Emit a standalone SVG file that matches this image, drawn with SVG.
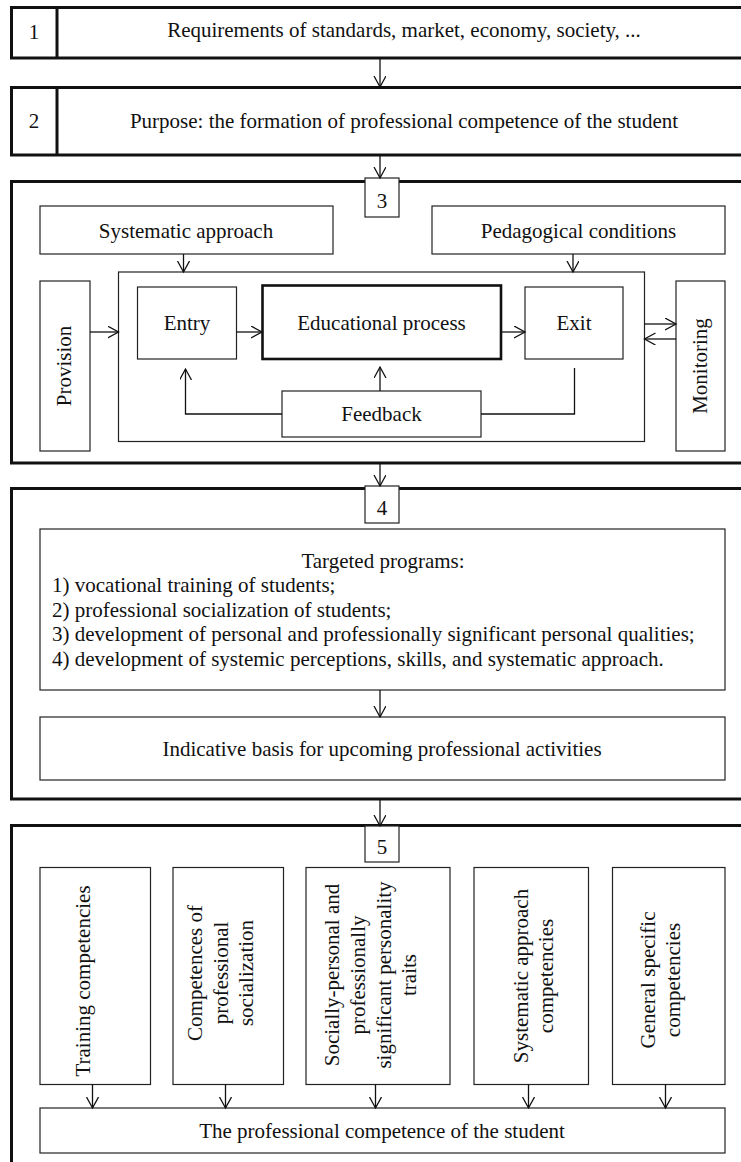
<svg xmlns="http://www.w3.org/2000/svg" width="741" height="1162" viewBox="0 0 741 1162">
<style>
text{font-family:"Liberation Serif","Times New Roman",serif;font-size:21px;fill:#111}
.c{text-anchor:middle}
.thick{fill:none;stroke:#111;stroke-width:3}
.box{fill:#fff;stroke:#222;stroke-width:1.2}
.bold{fill:#fff;stroke:#111;stroke-width:2.6}
.ln{fill:none;stroke:#111;stroke-width:1.3}
</style>
<defs>
<marker id="ah" markerWidth="13" markerHeight="14" refX="11" refY="6" orient="auto" markerUnits="userSpaceOnUse">
<path d="M0,0 L11,6 L0,12" fill="none" stroke="#111" stroke-width="1.3"/>
</marker>
</defs>
<rect width="741" height="1162" fill="#fff"/>

<g id="sec1">
<rect class="thick" x="11.5" y="7.5" width="745" height="50.5"/>
<line x1="57" y1="7.5" x2="57" y2="58" stroke="#111" stroke-width="3"/>
<text class="c" x="34" y="39">1</text>
<text class="c" x="404" y="37">Requirements of standards, market, economy, society, ...</text>
</g>

<g id="sec2">
<rect class="thick" x="11.5" y="87.5" width="745" height="67.5"/>
<line x1="57" y1="87.5" x2="57" y2="155" stroke="#111" stroke-width="3"/>
<text class="c" x="34" y="128">2</text>
<text class="c" x="404" y="128">Purpose: the formation of professional competence of the student</text>
</g>

<g id="sec3">
<rect class="thick" x="11.5" y="181.5" width="745" height="281.5"/>
<rect class="box" x="365" y="178" width="34" height="39"/>
<text class="c" x="382" y="208">3</text>
<g id="sysapp"><rect class="box" x="40" y="206" width="293" height="48"/><text class="c" x="186" y="238">Systematic approach</text></g>
<g id="pedcond"><rect class="box" x="432" y="206" width="293" height="48"/><text class="c" x="578.5" y="238">Pedagogical conditions</text></g>
<g id="container"><rect class="box" x="118.5" y="272" width="526" height="169.5"/></g>
<g id="provision"><rect class="box" x="40" y="281" width="50" height="170"/><text class="c" transform="translate(65,366) rotate(-90)" y="6">Provision</text></g>
<g id="monitoring"><rect class="box" x="676" y="281" width="49" height="170"/><text class="c" transform="translate(700.5,366) rotate(-90)" y="6">Monitoring</text></g>
<g id="entry"><rect class="box" x="137.5" y="287" width="99" height="72"/><text class="c" x="187" y="330">Entry</text></g>
<g id="edproc"><rect class="bold" x="262.5" y="285.5" width="238.5" height="73.5"/><text class="c" x="381.5" y="330">Educational process</text></g>
<g id="exit"><rect class="box" x="525" y="287" width="98" height="72"/><text class="c" x="574" y="330">Exit</text></g>
<g id="feedback"><rect class="box" x="282" y="391" width="199" height="46"/><text class="c" x="381.5" y="421">Feedback</text></g>
</g>

<g id="sec4">
<rect class="thick" x="11.5" y="488.5" width="745" height="310.5"/>
<rect class="box" x="365" y="486" width="34" height="37"/>
<text class="c" x="382" y="515">4</text>
<g id="targeted">
<rect class="box" x="40" y="529" width="685" height="161"/>
<text class="c" x="383" y="567.5">Targeted programs:</text>
<text x="52" y="592">1) vocational training of students;</text>
<text x="52" y="616.5">2) professional socialization of students;</text>
<text x="52" y="641">3) development of personal and professionally significant personal qualities;</text>
<text x="52" y="665.5">4) development of systemic perceptions, skills, and systematic approach.</text>
</g>
<g id="indicative"><rect class="box" x="40" y="717" width="685" height="63"/><text class="c" x="382" y="755.5">Indicative basis for upcoming professional activities</text></g>
</g>

<g id="sec5">
<rect class="thick" x="11.5" y="825.5" width="745" height="400"/>
<rect class="box" x="365" y="826" width="34" height="36"/>
<text class="c" x="382" y="854">5</text>
<g id="trainingcomp"><rect class="box" x="40" y="867.5" width="110.5" height="217"/>
<text class="c" transform="translate(89.5,981) rotate(-90)">Training competencies</text></g>
<g id="profsoc"><rect class="box" x="173" y="867.5" width="110.5" height="217"/>
<g transform="translate(0,973)">
<text class="c" transform="translate(202,0) rotate(-90)">Competences of</text>
<text class="c" transform="translate(227.5,0) rotate(-90)">professional</text>
<text class="c" transform="translate(253,0) rotate(-90)">socialization</text>
</g></g>
<g id="socpers"><rect class="box" x="306" y="867.5" width="144" height="217"/>
<g transform="translate(0,975)">
<text class="c" transform="translate(339,0) rotate(-90)">Socially-personal and</text>
<text class="c" transform="translate(364.5,0) rotate(-90)">professionally</text>
<text class="c" transform="translate(390.5,0) rotate(-90)">significant personality</text>
<text class="c" transform="translate(416,0) rotate(-90)">traits</text>
</g></g>
<g id="sysappcomp"><rect class="box" x="474" y="867.5" width="114.5" height="217"/>
<g transform="translate(0,976)">
<text class="c" transform="translate(528,0) rotate(-90)">Systematic approach</text>
<text class="c" transform="translate(552.5,0) rotate(-90)">competencies</text>
</g></g>
<g id="genspec"><rect class="box" x="612.5" y="867.5" width="112.5" height="217"/>
<g transform="translate(0,980)">
<text class="c" transform="translate(655,0) rotate(-90)">General specific</text>
<text class="c" transform="translate(680,0) rotate(-90)">competencies</text>
</g></g>
<g id="profcomp"><rect class="box" x="40" y="1108" width="685" height="45"/><text class="c" x="382" y="1137.5">The professional competence of the student</text></g>
</g>

<g id="connectors" class="ln">
<line x1="380" y1="58" x2="380" y2="87" marker-end="url(#ah)"/>
<line x1="380" y1="155" x2="380" y2="178" marker-end="url(#ah)"/>
<line x1="380" y1="463" x2="380" y2="486" marker-end="url(#ah)"/>
<line x1="380" y1="799" x2="380" y2="826" marker-end="url(#ah)"/>
<line x1="183.5" y1="254" x2="183.5" y2="272" marker-end="url(#ah)"/>
<line x1="573" y1="254" x2="573" y2="272" marker-end="url(#ah)"/>
<line x1="90" y1="332" x2="118.5" y2="332" marker-end="url(#ah)"/>
<line x1="236.5" y1="332" x2="262" y2="332" marker-end="url(#ah)"/>
<line x1="501" y1="332" x2="525" y2="332" marker-end="url(#ah)"/>
<line x1="644.5" y1="324" x2="676" y2="324" marker-end="url(#ah)"/>
<line x1="676" y1="339" x2="644.5" y2="339" marker-end="url(#ah)"/>
<polyline points="282,414 185.5,414 185.5,369" marker-end="url(#ah)"/>
<line x1="380" y1="391" x2="380" y2="367" marker-end="url(#ah)"/>
<polyline points="481,414 574.5,414 574.5,368"/>
<line x1="380" y1="690" x2="380" y2="717" marker-end="url(#ah)"/>
<line x1="92.5" y1="1084.5" x2="92.5" y2="1108" marker-end="url(#ah)"/>
<line x1="225.5" y1="1084.5" x2="225.5" y2="1108" marker-end="url(#ah)"/>
<line x1="375.5" y1="1084.5" x2="375.5" y2="1108" marker-end="url(#ah)"/>
<line x1="528.5" y1="1084.5" x2="528.5" y2="1108" marker-end="url(#ah)"/>
<line x1="665.5" y1="1084.5" x2="665.5" y2="1108" marker-end="url(#ah)"/>
</g>
</svg>
